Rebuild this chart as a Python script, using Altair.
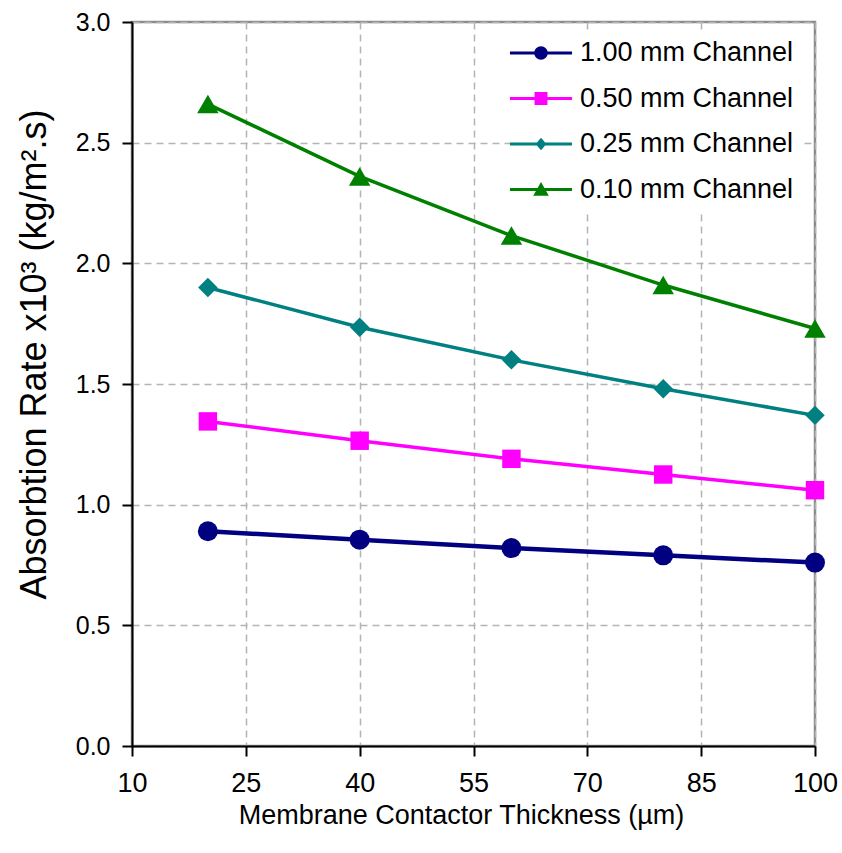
import altair as alt
import pandas as pd

# Membrane contactor thickness (µm) at which each absorption rate was computed
thickness = [20, 40, 60, 80, 100]

# Absorption rate x10^3 (kg/m^2.s) for each channel height
channels = ["1.00 mm Channel", "0.50 mm Channel", "0.25 mm Channel", "0.10 mm Channel"]
rate_1_00 = [0.89, 0.855, 0.82, 0.79, 0.76]
rate_0_50 = [1.345, 1.265, 1.19, 1.125, 1.06]
rate_0_25 = [1.90, 1.735, 1.60, 1.48, 1.37]
rate_0_10 = [2.66, 2.36, 2.115, 1.91, 1.73]

x_ticks = [10, 25, 40, 55, 70, 85, 100]
y_ticks = [0.0, 0.5, 1.0, 1.5, 2.0, 2.5, 3.0]

# Styling
colors = ["#000080", "#FF00FF", "#008080", "#008000"]
marker_shapes = ["circle", "square", "diamond", "triangle-up"]
marker_sizes = [400, 340, 380, 460]
line_widths = [4.5, 3.5, 3.5, 3.5]
# Legend keys: a short line segment with the series marker in its middle
key_paths = [
    "M-2.07,-0.1H2.07V0.1H-2.07Z M-0.45,0A0.45,0.45 0 1,1 0.45,0A0.45,0.45 0 1,1 -0.45,0Z",
    "M-2.07,-0.1H2.07V0.1H-2.07Z M-0.43,-0.43H0.43V0.43H-0.43Z",
    "M-2.07,-0.1H2.07V0.1H-2.07Z M0,-0.42L0.36,0L0,0.42L-0.36,0Z",
    "M-2.07,-0.1H2.07V0.1H-2.07Z M0,-0.5L0.52,0.42H-0.52Z",
]

FONT = "Liberation Sans, Arial, sans-serif"

series = [rate_1_00, rate_0_50, rate_0_25, rate_0_10]
rows = []
for name, values in zip(channels, series):
    for t, v in zip(thickness, values):
        rows.append({"thickness": t, "rate": v, "channel": name})
df = pd.DataFrame(rows)

x_enc = alt.X(
    "thickness:Q",
    scale=alt.Scale(domain=[10, 100], nice=False, zero=False),
    axis=alt.Axis(
        values=x_ticks,
        title="Membrane Contactor Thickness (µm)",
        labelFont=FONT,
        labelFontSize=27,
        labelBaseline="alphabetic",
        labelPadding=35,
        labelFlush=False,
        titleFont=FONT,
        titleFontSize=27,
        titleFontWeight="normal",
        titleBaseline="alphabetic",
        titleX=329,
        titleY=77,
    ),
)
y_enc = alt.Y(
    "rate:Q",
    scale=alt.Scale(domain=[0, 3], nice=False, zero=True),
    axis=alt.Axis(
        values=y_ticks,
        format=".1f",
        title="Absorbtion Rate x10³ (kg/m².s)",
        labelFont=FONT,
        labelFontSize=25,
        labelPadding=12,
        titleFont=FONT,
        titleFontSize=36,
        titleFontWeight="normal",
        titleBaseline="alphabetic",
        titleX=-87,
        titleY=332,
    ),
)

base = alt.Chart(df).encode(x=x_enc, y=y_enc)

# One line and one marker layer per channel height
lines = [
    base.transform_filter(alt.datum.channel == name).mark_line(strokeWidth=w, color=c)
    for name, w, c in zip(channels, line_widths, colors)
]
markers = [
    base.transform_filter(alt.datum.channel == name).mark_point(
        filled=True, opacity=1, shape=shape, size=size, color=c
    )
    for name, shape, size, c in zip(channels, marker_shapes, marker_sizes, colors)
]

legend_props = dict(
    orient="none",
    legendX=386,
    legendY=8,
    title=None,
    labelFont=FONT,
    labelFontSize=27,
    labelColor="black",
    labelOffset=24,
    labelLimit=0,
    symbolSize=900,
    symbolStrokeWidth=0,
    symbolOpacity=1,
    rowPadding=17.5,
    padding=8,
    fillColor="white",
)

# Legend-only layer: its own marks are fully transparent
key = (
    alt.Chart(df)
    .mark_point(filled=True, opacity=0)
    .encode(
        x=alt.X("thickness:Q"),
        y=alt.Y("rate:Q"),
        color=alt.Color("channel:N", scale=alt.Scale(domain=channels, range=colors),
                        sort=channels, legend=alt.Legend(**legend_props)),
        shape=alt.Shape("channel:N", scale=alt.Scale(domain=channels, range=key_paths),
                        sort=channels, legend=alt.Legend(**legend_props)),
    )
)

chart = (
    alt.layer(*lines, *markers, key)
    .properties(
        width=683,
        height=724,
        autosize=alt.AutoSizeParams(type="none"),
        padding={"left": 132, "top": 22, "right": 27, "bottom": 107},
        background="white",
    )
    .configure_view(stroke="#8c8c8c", strokeWidth=2.5)
    .configure_axis(
        grid=True,
        gridColor="#b4b4b4",
        gridDash=[7, 5],
        gridWidth=1.5,
        domainColor="black",
        domainWidth=2,
        tickColor="black",
        tickWidth=2,
        tickSize=10,
        labelColor="black",
        titleColor="black",
    )
)

chart.save("out.html", embed_options={"renderer": "svg", "actions": False})
